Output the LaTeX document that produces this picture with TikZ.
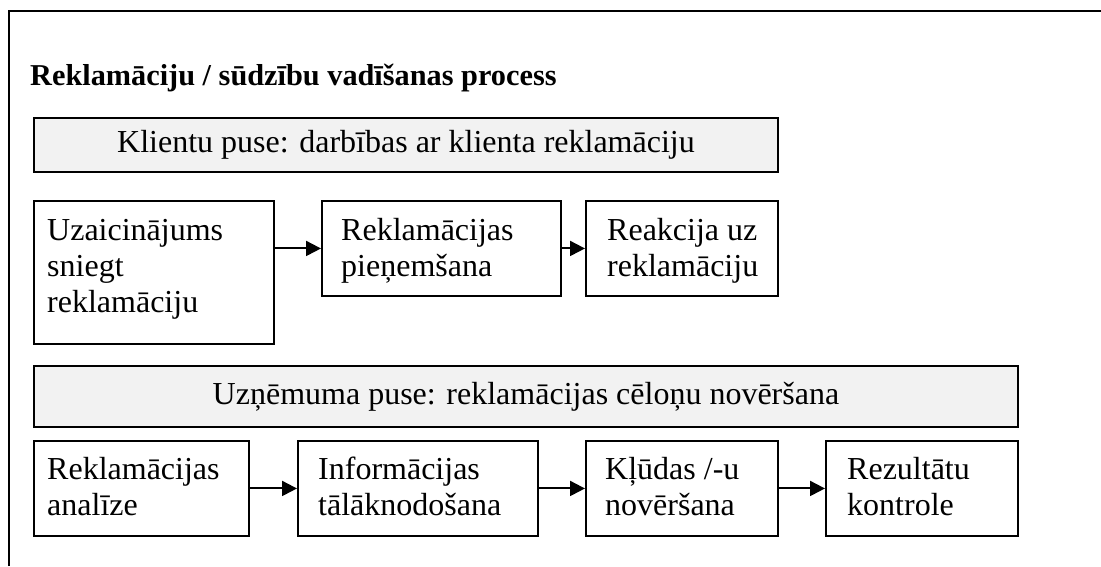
\documentclass[tikz,border=0pt]{standalone}
\usepackage{fontspec}
\setmainfont{Liberation Serif}
\usetikzlibrary{arrows.meta}
\definecolor{barfill}{HTML}{F2F2F2}
% stacked lines whose baseline is the first line's baseline
\newcommand{\stacklines}[1]{\vtop{\halign{##\hfil\cr#1\crcr}}}
\begin{document}
\begin{tikzpicture}[x=1pt,y=-1pt,
  stepbox/.style={draw, line width=1.9pt, anchor=north west, inner sep=0pt},
  steptext/.style={anchor=base west, inner sep=0pt,
    font=\fontsize{32}{36}\selectfont},
  bar/.style={draw, line width=1.9pt, fill=barfill, anchor=north west,
    font=\fontsize{32}{36}\selectfont, inner sep=0pt},
  flow/.style={line width=2pt, -{Triangle[length=15pt,width=15pt]}}]
\useasboundingbox (0,0) rectangle (1101,566);
% frame edges
\draw[line width=2.2pt] (9,566) -- (9,11) -- (1101,11);
% heading
\node[anchor=base west, inner sep=0pt, font=\bfseries\fontsize{30.3}{34}\selectfont]
  (title) at (30,85) {Reklamāciju / sūdzību vadīšanas process};
% customer side
\node[bar, minimum width=744pt, minimum height=54pt] (barA) at (33,117)
  {Klientu puse: darbības ar klienta reklamāciju};
\node[stepbox, minimum width=240pt, minimum height=143pt] (a1) at (33,200) {};
\node[stepbox, minimum width=239pt, minimum height=95pt] (a2) at (321,200) {};
\node[stepbox, minimum width=192pt, minimum height=95pt] (a3) at (585,200) {};
\node[steptext] (a1t) at ([xshift=14pt,yshift=-40pt]a1.north west)
  {\stacklines{Uzaicinājums\cr sniegt\cr reklamāciju}};
\node[steptext] (a2t) at ([xshift=20pt,yshift=-40pt]a2.north west)
  {\stacklines{Reklamācijas\cr pieņemšana}};
\node[steptext] (a3t) at ([xshift=22pt,yshift=-40pt]a3.north west)
  {\stacklines{Reakcija uz\cr reklamāciju}};
\draw[flow] (a1.east |- a2.west) -- (a2.west);
\draw[flow] (a2.east) -- (a3.west);
% company side
\node[bar, minimum width=984pt, minimum height=61pt] (barB) at (33,365)
  {Uzņēmuma puse: reklamācijas cēloņu novēršana};
\node[stepbox, minimum width=215pt, minimum height=95pt] (b1) at (33,440) {};
\node[stepbox, minimum width=240pt, minimum height=95pt] (b2) at (297,440) {};
\node[stepbox, minimum width=192pt, minimum height=95pt] (b3) at (585,440) {};
\node[stepbox, minimum width=192pt, minimum height=95pt] (b4) at (825,440) {};
\node[steptext] (b1t) at ([xshift=14pt,yshift=-39pt]b1.north west)
  {\stacklines{Reklamācijas\cr analīze}};
\node[steptext] (b2t) at ([xshift=21pt,yshift=-39pt]b2.north west)
  {\stacklines{Informācijas\cr tālāknodošana}};
\node[steptext] (b3t) at ([xshift=20pt,yshift=-39pt]b3.north west)
  {\stacklines{Kļūdas /-u\cr novēršana}};
\node[steptext] (b4t) at ([xshift=22pt,yshift=-39pt]b4.north west)
  {\stacklines{Rezultātu\cr kontrole}};
\draw[flow] (b1.east) -- (b2.west);
\draw[flow] (b2.east) -- (b3.west);
\draw[flow] (b3.east) -- (b4.west);
\end{tikzpicture}
\end{document}
